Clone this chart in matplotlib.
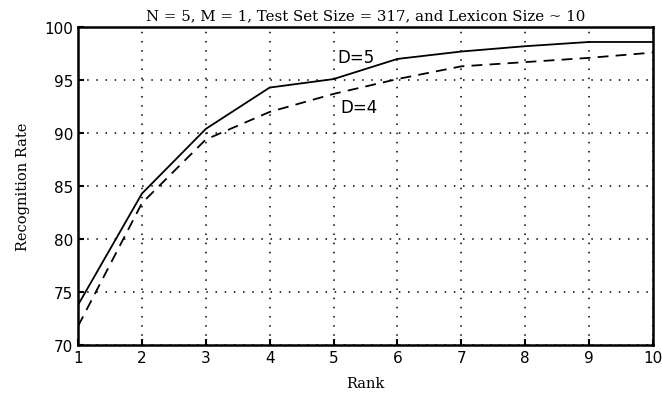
import matplotlib
matplotlib.use('Agg')
import matplotlib.pyplot as plt

# values
rank = [1, 2, 3, 4, 5, 6, 7, 8, 9, 10]
rate_d5 = [73.8, 84.3, 90.4, 94.3, 95.1, 97.0, 97.7, 98.2, 98.6, 98.6]
rate_d4 = [71.8, 83.4, 89.4, 92.0, 93.7, 95.1, 96.3, 96.7, 97.1, 97.6]
yticks = [70, 75, 80, 85, 90, 95, 100]

fig = plt.figure(figsize=(6.62, 4.02), dpi=100)
ax = fig.add_axes([0.118, 0.139, 0.868, 0.791])

ax.plot(rank, rate_d5, 'k-', linewidth=1.3)
ax.plot(rank, rate_d4, 'k--', linewidth=1.3, dashes=(6, 4))

ax.text(5.36, 97.2, 'D=5', fontsize=12, ha='center', va='center', family='DejaVu Sans')
ax.text(5.4, 92.5, 'D=4', fontsize=12, ha='center', va='center', family='DejaVu Sans')

ax.set_xlim(1, 10)
ax.set_ylim(70, 100)
ax.set_xticks(rank)
ax.set_yticks(yticks)
ax.tick_params(direction='in', length=4, width=1.5, labelsize=11)
ax.grid(True, color='black', linestyle=(0, (1, 5)), linewidth=1.1)
for s in ax.spines.values():
    s.set_linewidth(1.8)

ax.set_title('N = 5, M = 1, Test Set Size = 317, and Lexicon Size ~ 10',
             family='DejaVu Serif', fontsize=10.8, pad=6)
ax.set_xlabel('Rank', family='DejaVu Serif', fontsize=10.5, labelpad=8)
ax.set_ylabel('Recognition Rate', family='DejaVu Serif', fontsize=10.5, labelpad=10)

plt.savefig('out.png', dpi=100)
